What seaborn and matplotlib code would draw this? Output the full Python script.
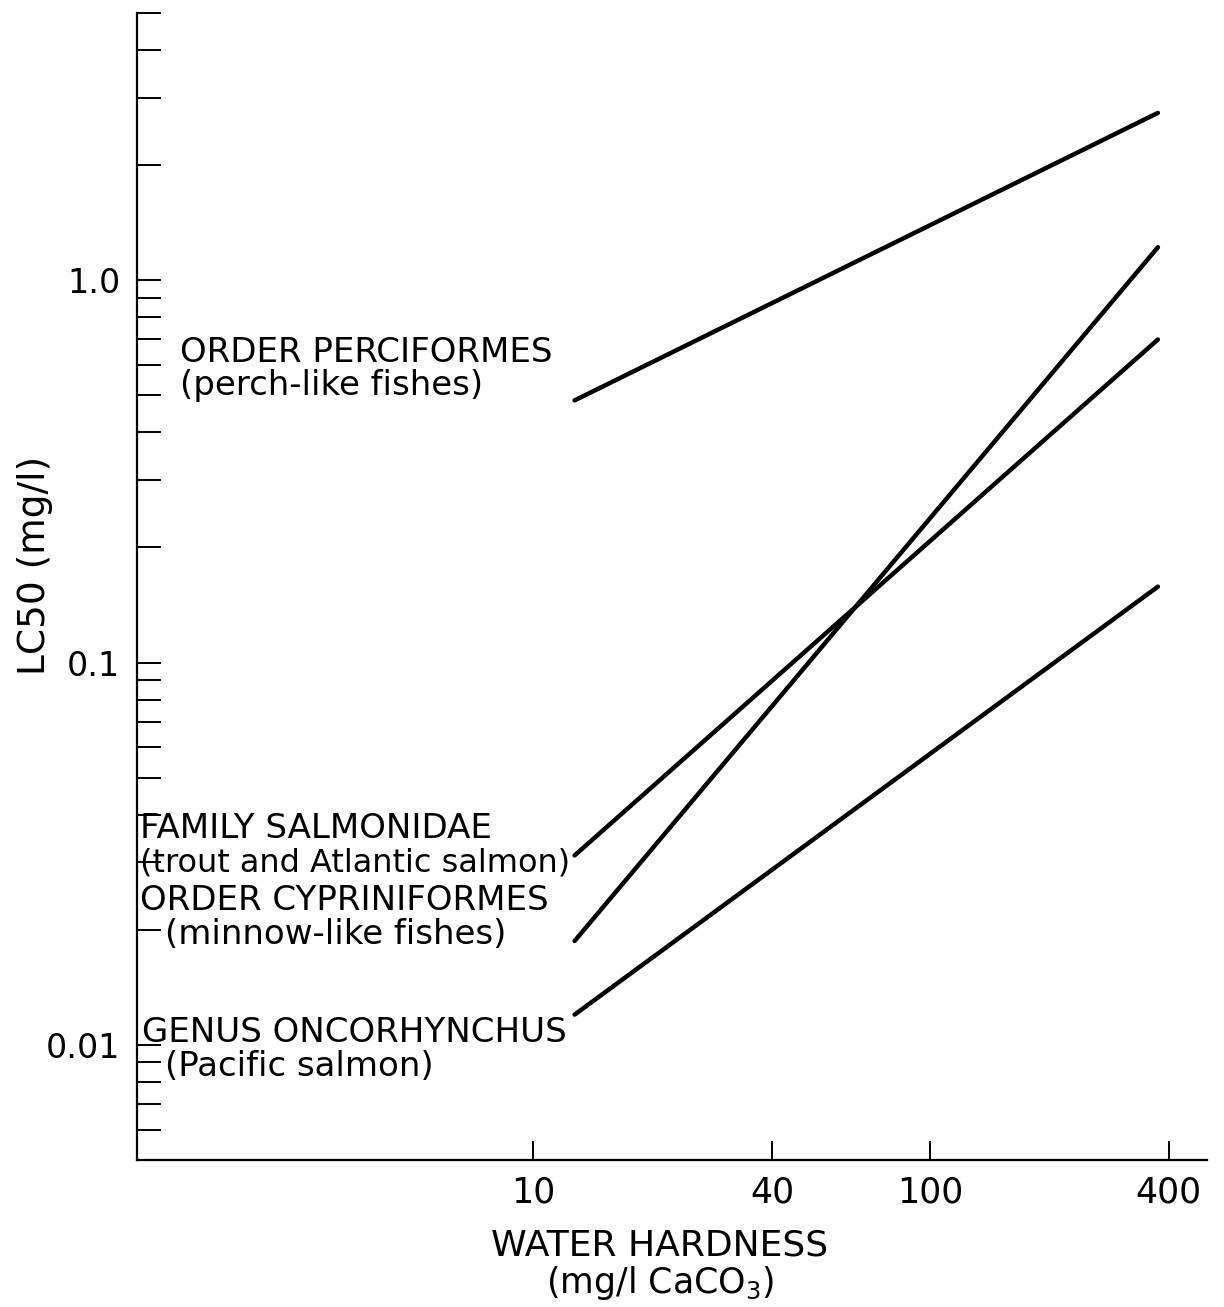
import numpy as np
import pandas as pd
import matplotlib
matplotlib.use("Agg")
import matplotlib.pyplot as plt
from matplotlib.ticker import FixedLocator, NullFormatter, NullLocator
import seaborn as sns

# Water hardness (mg/l CaCO3) at the two ends of each regression line
hardness_lo = 12.7
hardness_hi = 376

# LC50 (mg/l) at the low and high hardness ends
groups = ["Perciformes", "Salmonidae", "Cypriniformes", "Oncorhynchus"]
lc50_lo = [0.485, 0.0313, 0.0187, 0.0120]
lc50_hi = [2.74, 0.70, 1.22, 0.158]

# Axis ticks
x_ticks = [10, 40, 100, 400]
x_tick_labels = ["10", "40", "100", "400"]
y_major = [0.01, 0.1, 1.0]
y_major_labels = ["0.01", "0.1", "1.0"]
y_minor = [0.006, 0.007, 0.008, 0.009,
           0.02, 0.03, 0.04, 0.05, 0.06, 0.07, 0.08, 0.09,
           0.2, 0.3, 0.4, 0.5, 0.6, 0.7, 0.8, 0.9,
           2, 3, 4, 5]

# Group labels (two lines each)
label_titles = ["ORDER PERCIFORMES", "FAMILY SALMONIDAE",
                "ORDER CYPRINIFORMES", "GENUS ONCORHYNCHUS"]
label_subtitles = ["(perch-like fishes)", "(trout and Atlantic salmon)",
                   "(minnow-like fishes)", "(Pacific salmon)"]

rows = []
for g, lo, hi in zip(groups, lc50_lo, lc50_hi):
    rows.append({"group": g, "hardness": hardness_lo, "lc50": lo})
    rows.append({"group": g, "hardness": hardness_hi, "lc50": hi})
df = pd.DataFrame(rows)

sns.set_theme(style="white")
plt.rcParams["font.family"] = ["DejaVu Sans"]
plt.rcParams["text.color"] = "black"
plt.rcParams["xtick.color"] = "black"
plt.rcParams["ytick.color"] = "black"

W, H = 1224, 1307
fig = plt.figure(figsize=(W / 100, H / 100), dpi=100)
ax = fig.add_axes([137 / W, 1 - 1160 / H, (1207 - 137) / W, (1160 - 13) / H])

sns.lineplot(data=df, x="hardness", y="lc50", units="group", estimator=None,
             color="black", linewidth=3.2, ax=ax, legend=False,
             solid_capstyle="round")

ax.set_xscale("log")
ax.set_yscale("log")
ax.set_xlim(1.0, 500)
ax.set_ylim(0.005, 5)

ax.xaxis.set_major_locator(FixedLocator(x_ticks))
ax.set_xticklabels(x_tick_labels)
ax.xaxis.set_minor_locator(NullLocator())
ax.yaxis.set_major_locator(FixedLocator(y_major))
ax.set_yticklabels(y_major_labels)
ax.yaxis.set_minor_locator(FixedLocator(y_minor))
ax.yaxis.set_minor_formatter(NullFormatter())

for s in ["top", "right"]:
    ax.spines[s].set_visible(False)
for s in ["left", "bottom"]:
    ax.spines[s].set_color("black")
    ax.spines[s].set_linewidth(1.6)

ax.tick_params(axis="x", which="major", direction="in", length=14, width=1.4,
               color="black", labelcolor="black", labelsize=25, pad=11, bottom=True)
ax.tick_params(axis="y", which="both", direction="in", length=17, width=1.4,
               color="black", labelcolor="black", labelsize=24, pad=12, left=True)
ax.set_xlabel("")
ax.set_ylabel("")

# Axis titles
fig.text(660 / W, 1 - 1245 / H, "WATER HARDNESS", ha="center", va="center",
         fontsize=26)
fig.text(660 / W, 1 - 1283 / H, r"(mg/l CaCO$_3$)", ha="center", va="center",
         fontsize=25)
fig.text(35 / W, 1 - 565 / H, "LC50 (mg/l)", ha="center", va="center",
         rotation=90, fontsize=27)

# Group annotations
title_pos = [(180, 352), (140, 828), (140, 900), (142, 1032)]
sub_pos = [(180, 385), (140, 863), (165, 935), (165, 1067)]
sub_sizes = [24.5, 23, 24.5, 24.5]
for t, s, (tx, ty), (sx, sy), fs in zip(label_titles, label_subtitles,
                                         title_pos, sub_pos, sub_sizes):
    fig.text(tx / W, 1 - ty / H, t, ha="left", va="center", fontsize=24.5)
    fig.text(sx / W, 1 - sy / H, s, ha="left", va="center", fontsize=fs)

fig.savefig("out.png", dpi=100, facecolor="white")
